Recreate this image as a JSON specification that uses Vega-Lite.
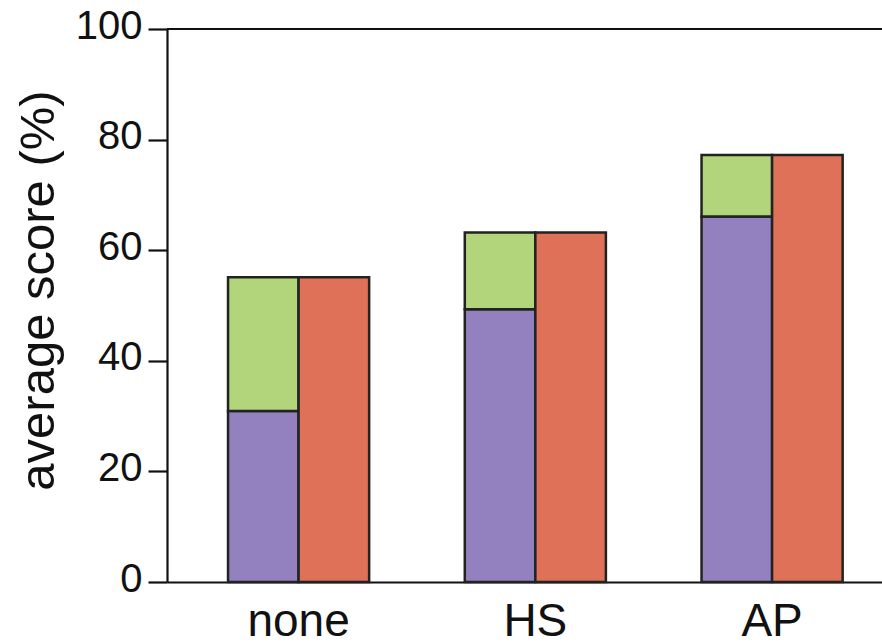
{
  "$schema": "https://vega.github.io/schema/vega-lite/v6.json",
  "autosize": {"type": "none"},
  "padding": {"left": 167, "top": 29, "right": 0, "bottom": 62},
  "width": 715,
  "height": 553,
  "background": "white",
  "config": {
    "font": "Liberation Sans",
    "view": {"stroke": null},
    "axis": {
      "grid": false,
      "domainColor": "#111111",
      "domainWidth": 2.2,
      "tickColor": "#111111",
      "tickWidth": 2.2,
      "labelColor": "#111111",
      "titleColor": "#111111"
    }
  },
  "data": {
    "values": [
      {"treatment": "none", "side": "A", "segment": "purple", "low": 0, "high": 30.9},
      {"treatment": "none", "side": "A", "segment": "green", "low": 30.9, "high": 55.1},
      {"treatment": "none", "side": "B", "segment": "red", "low": 0, "high": 55.1},
      {"treatment": "HS", "side": "A", "segment": "purple", "low": 0, "high": 49.3},
      {"treatment": "HS", "side": "A", "segment": "green", "low": 49.3, "high": 63.2},
      {"treatment": "HS", "side": "B", "segment": "red", "low": 0, "high": 63.2},
      {"treatment": "AP", "side": "A", "segment": "purple", "low": 0, "high": 66.1},
      {"treatment": "AP", "side": "A", "segment": "green", "low": 66.1, "high": 77.2},
      {"treatment": "AP", "side": "B", "segment": "red", "low": 0, "high": 77.2}
    ]
  },
  "layer": [
    {
      "mark": {"type": "bar", "stroke": "#222222", "strokeWidth": 2.5},
      "encoding": {
        "x": {
          "field": "treatment",
          "type": "nominal",
          "sort": ["none", "HS", "AP"],
          "scale": {"paddingInner": 0.404, "paddingOuter": 0.212, "align": 0.608},
          "axis": {"title": null, "labelAngle": 0, "ticks": false, "tickSize": 0, "labelFontSize": 46, "labelPadding": 17}
        },
        "xOffset": {
          "field": "side",
          "type": "nominal",
          "sort": ["A", "B"],
          "scale": {"paddingInner": 0, "paddingOuter": 0}
        },
        "y": {
          "field": "low",
          "type": "quantitative",
          "scale": {"domain": [0, 100], "nice": false},
          "axis": {
            "title": "average score (%)",
            "titleFontSize": 49,
            "titleFontWeight": "normal",
            "titlePadding": 12,
            "titleY": 261,
            "values": [0, 20, 40, 60, 80, 100],
            "tickSize": 19,
            "labelFontSize": 40,
            "labelPadding": 6,
            "labelOffset": -3
          }
        },
        "y2": {"field": "high"},
        "color": {
          "field": "segment",
          "type": "nominal",
          "scale": {"domain": ["purple", "green", "red"], "range": ["#9380BE", "#B2D47A", "#DF7158"]},
          "legend": null
        }
      }
    },
    {
      "data": {"values": [{}]},
      "mark": {"type": "rule", "color": "#111111", "strokeWidth": 2.2},
      "encoding": {"y": {"datum": 100}}
    }
  ]
}
